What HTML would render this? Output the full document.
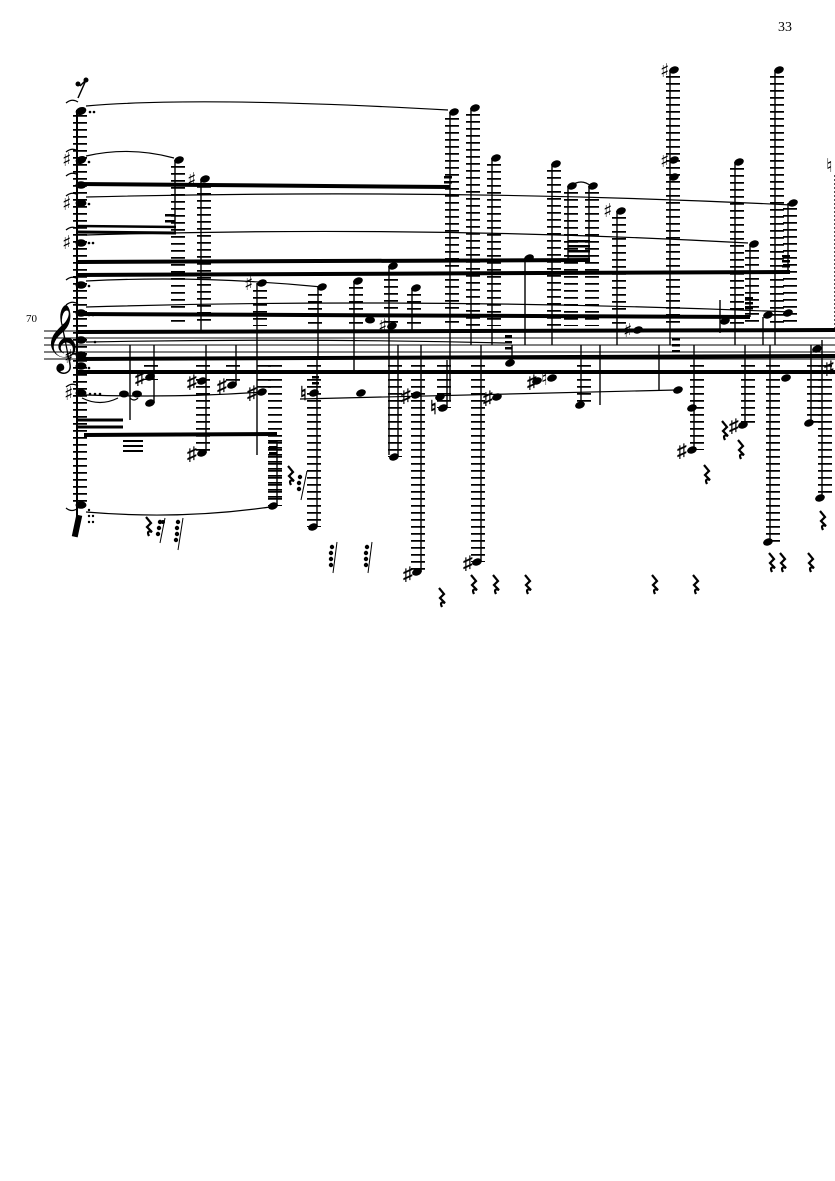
<!DOCTYPE html>
<html><head><meta charset="utf-8"><style>
html,body{margin:0;padding:0;background:#fff}
svg{display:block}
.l{stroke:#000;stroke-width:14;stroke-dasharray:1.8 5.2;fill:none}
.s{stroke:#000;stroke-width:1.4;fill:none}
.b{stroke:#000;stroke-width:4;fill:none}
.t{stroke:#000;stroke-width:1.2;fill:none}
.st{stroke:#000;stroke-width:0.9}
text{font-family:"Liberation Serif",serif;fill:#000}
.a{font-family:"DejaVu Sans",sans-serif;font-size:19px;font-weight:bold}
</style></head><body>
<svg width="835" height="1181" viewBox="0 0 835 1181" xmlns="http://www.w3.org/2000/svg">
<defs><path id="r" d="M1 0 L6 6 L2 10 L7 15 Q1 13 4 19" stroke="#000" stroke-width="2.2" fill="none"/></defs>
<text x="778" y="31" font-size="14">33</text>
<text x="26" y="322" font-size="11">70</text>
<!-- staff -->
<g class="st">
<line x1="44" y1="331" x2="835" y2="331"/><line x1="44" y1="338" x2="835" y2="338"/><line x1="44" y1="345" x2="835" y2="345"/><line x1="44" y1="352" x2="835" y2="352"/><line x1="44" y1="359" x2="835" y2="359"/>
</g>
<text x="44" y="357" font-size="58" font-family="DejaVu Sans">𝄞</text>

<!-- left column -->
<line class="l" x1="80" y1="115" x2="80" y2="505"/>
<line x1="77" y1="110" x2="77" y2="530" stroke="#000" stroke-width="2"/>
<g fill="#000">
<ellipse cx="81" cy="111" rx="5.5" ry="3.8" transform="rotate(-20 81 111)"/>
<ellipse cx="81" cy="160" rx="5.5" ry="3.8" transform="rotate(-20 81 160)"/>
<ellipse cx="81" cy="185" rx="5.5" ry="3.8"/>
<ellipse cx="81" cy="203" rx="5.5" ry="3.8"/>
<ellipse cx="81" cy="243" rx="5.5" ry="3.8"/>
<ellipse cx="81" cy="285" rx="5.5" ry="3.8"/>
<ellipse cx="81" cy="313" rx="5.5" ry="3.8"/>
<ellipse cx="81" cy="340" rx="5.5" ry="3.8"/>
<ellipse cx="81" cy="355" rx="5.5" ry="3.8"/>
<ellipse cx="81" cy="366" rx="5.5" ry="3.8"/>
<ellipse cx="81" cy="393" rx="5.5" ry="3.8"/>
<ellipse cx="81" cy="505" rx="5.5" ry="3.8"/>
<circle cx="90" cy="112" r="1.3"/><circle cx="94" cy="112" r="1.3"/>
<circle cx="89" cy="162" r="1.3"/><circle cx="89" cy="204" r="1.3"/><circle cx="89" cy="243" r="1.3"/><circle cx="93" cy="243" r="1.3"/>
<circle cx="89" cy="286" r="1.3"/><circle cx="89" cy="315" r="1.3"/><circle cx="93" cy="315" r="1.3"/>
<circle cx="95" cy="342" r="1.3"/><circle cx="89" cy="368" r="1.3"/>
<circle cx="90" cy="394" r="1.3"/><circle cx="95" cy="394" r="1.3"/><circle cx="100" cy="394" r="1.3"/>
<circle cx="89" cy="510" r="1.2"/><circle cx="89" cy="516" r="1.2"/><circle cx="89" cy="522" r="1.2"/><circle cx="93" cy="516" r="1.2"/><circle cx="93" cy="522" r="1.2"/>
<rect x="74" y="515" width="6" height="22" transform="rotate(12 77 526)"/>
<ellipse cx="124" cy="394" rx="5" ry="3.5"/><ellipse cx="137" cy="394" rx="5" ry="3.5"/>
<circle cx="78" cy="84" r="2.5"/><circle cx="86" cy="80" r="2.5"/>
</g>
<path d="M80 86 L86 80 L78 98" stroke="#000" stroke-width="1.5" fill="none"/>
<text class="a" x="62" y="166">♯</text><text class="a" x="62" y="210">♯</text><text class="a" x="62" y="249">♯</text>
<text class="a" x="64" y="363">♯</text><text class="a" x="64" y="400">♯</text>
<!-- ties left -->
<g class="t">
<path d="M66 103 Q72 98 78 102"/><path d="M66 152 Q72 147 78 151"/><path d="M66 176 Q72 171 78 175"/><path d="M66 196 Q72 191 78 195"/><path d="M66 230 Q72 225 78 229"/><path d="M66 280 Q72 275 78 279"/><path d="M66 305 Q72 300 78 304"/><path d="M66 387 Q72 382 78 386"/><path d="M66 508 Q72 513 78 508"/>
<path d="M82 398 Q100 407 118 398"/><path d="M130 398 Q134 402 138 398"/>
</g>

<!-- slurs -->
<g class="t">
<path d="M86 106 Q200 96 448 110"/>
<path d="M86 156 Q130 146 174 158"/>
<path d="M86 197 Q450 188 792 205"/>
<path d="M86 235 Q420 225 748 243"/>
<path d="M86 281 Q200 275 322 287"/>
<path d="M86 307 Q420 297 790 312"/>
<path d="M86 342 Q300 338 505 343"/>
<path d="M86 395 Q180 398 262 392"/>
<path d="M300 399 Q500 395 676 390"/>
<path d="M86 512 Q180 520 270 507"/>
<path d="M571 186 Q581 178 591 186"/>
</g>

<!-- beams -->
<g class="b">
<line x1="77" y1="184" x2="450" y2="187"/>
<line x1="77" y1="226" x2="176" y2="227" stroke-width="2.5"/>
<line x1="77" y1="232" x2="176" y2="233" stroke-width="3"/>
<line x1="77" y1="262" x2="590" y2="260"/>
<line x1="77" y1="275" x2="790" y2="272"/>
<line x1="77" y1="314" x2="750" y2="317"/>
<line x1="77" y1="332" x2="835" y2="330"/>
<line x1="77" y1="359" x2="835" y2="356"/>
<line x1="77" y1="372" x2="835" y2="372"/>
<line x1="77" y1="420" x2="123" y2="420" stroke-width="3"/>
<line x1="77" y1="427" x2="123" y2="427" stroke-width="3"/>
<line x1="84" y1="435" x2="277" y2="434"/>
</g>

<!-- upper notes -->
<g>
<line class="l" x1="178" y1="166" x2="178" y2="326"/><line class="s" x1="175" y1="160" x2="175" y2="232"/>
<line class="l" x1="204" y1="186" x2="204" y2="326"/><line class="s" x1="201" y1="180" x2="201" y2="330"/>
<line class="l" x1="260" y1="290" x2="260" y2="326"/><line class="l" x1="275" y1="440" x2="275" y2="500"/><line class="s" x1="257" y1="283" x2="257" y2="455"/>
<line class="l" x1="315" y1="294" x2="315" y2="326"/><line class="s" x1="318" y1="288" x2="318" y2="360"/>
<line class="l" x1="356" y1="287" x2="356" y2="326"/><line class="s" x1="354" y1="281" x2="354" y2="370"/>
<line class="l" x1="391" y1="272" x2="391" y2="326"/><line class="s" x1="389" y1="266" x2="389" y2="455"/>
<line class="l" x1="414" y1="294" x2="414" y2="326"/><line class="s" x1="412" y1="288" x2="412" y2="330"/>
<line class="l" x1="452" y1="118" x2="452" y2="326"/><line class="s" x1="450" y1="112" x2="450" y2="400"/>
<line class="l" x1="473" y1="114" x2="473" y2="326"/><line class="s" x1="471" y1="108" x2="471" y2="345"/>
<line class="l" x1="494" y1="164" x2="494" y2="326"/><line class="s" x1="492" y1="158" x2="492" y2="345"/>
<line class="s" x1="525" y1="258" x2="525" y2="345"/>
<line class="l" x1="554" y1="170" x2="554" y2="326"/><line class="s" x1="552" y1="164" x2="552" y2="345"/>
<line class="l" x1="571" y1="192" x2="571" y2="326"/><line class="s" x1="568" y1="186" x2="568" y2="260"/>
<line class="l" x1="592" y1="192" x2="592" y2="326"/><line class="s" x1="589" y1="186" x2="589" y2="260"/>
<line class="l" x1="619" y1="217" x2="619" y2="326"/><line class="s" x1="617" y1="211" x2="617" y2="345"/>
<line class="l" x1="673" y1="76" x2="673" y2="326"/><line class="s" x1="670" y1="70" x2="670" y2="345"/>
<line class="l" x1="737" y1="168" x2="737" y2="326"/><line class="s" x1="735" y1="162" x2="735" y2="345"/>
<line class="l" x1="752" y1="250" x2="752" y2="326"/><line class="s" x1="750" y1="244" x2="750" y2="317"/>
<line class="l" x1="777" y1="76" x2="777" y2="326"/><line class="s" x1="775" y1="70" x2="775" y2="345"/>
<line class="l" x1="790" y1="208" x2="790" y2="326"/><line class="s" x1="788" y1="203" x2="788" y2="272"/>
<line class="s" x1="720" y1="333" x2="720" y2="300"/>
<line class="s" x1="763" y1="317" x2="763" y2="345"/>
<line class="s" x1="835" y1="175" x2="835" y2="330" stroke-dasharray="2 2"/>
</g>
<g fill="#000">
<ellipse cx="179" cy="160" rx="5" ry="3.5" transform="rotate(-20 179 160)"/>
<ellipse cx="205" cy="179" rx="5" ry="3.5" transform="rotate(-20 205 179)"/>
<ellipse cx="262" cy="283" rx="5" ry="3.5" transform="rotate(-20 262 283)"/>
<ellipse cx="322" cy="287" rx="5" ry="3.5" transform="rotate(-20 322 287)"/>
<ellipse cx="358" cy="281" rx="5" ry="3.5" transform="rotate(-20 358 281)"/>
<ellipse cx="393" cy="266" rx="5" ry="3.5" transform="rotate(-20 393 266)"/>
<ellipse cx="416" cy="288" rx="5" ry="3.5" transform="rotate(-20 416 288)"/>
<ellipse cx="454" cy="112" rx="5" ry="3.5" transform="rotate(-20 454 112)"/>
<ellipse cx="475" cy="108" rx="5" ry="3.5" transform="rotate(-20 475 108)"/>
<ellipse cx="496" cy="158" rx="5" ry="3.5" transform="rotate(-20 496 158)"/>
<ellipse cx="529" cy="258" rx="5" ry="3.5" transform="rotate(-20 529 258)"/>
<ellipse cx="556" cy="164" rx="5" ry="3.5" transform="rotate(-20 556 164)"/>
<ellipse cx="572" cy="186" rx="5" ry="3.5" transform="rotate(-20 572 186)"/>
<ellipse cx="593" cy="186" rx="5" ry="3.5" transform="rotate(-20 593 186)"/>
<ellipse cx="621" cy="211" rx="5" ry="3.5" transform="rotate(-20 621 211)"/>
<ellipse cx="674" cy="70" rx="5" ry="3.5" transform="rotate(-20 674 70)"/>
<ellipse cx="674" cy="160" rx="5" ry="3.5" transform="rotate(-20 674 160)"/>
<ellipse cx="674" cy="177" rx="5" ry="3.5" transform="rotate(-20 674 177)"/>
<ellipse cx="739" cy="162" rx="5" ry="3.5" transform="rotate(-20 739 162)"/>
<ellipse cx="754" cy="244" rx="5" ry="3.5" transform="rotate(-20 754 244)"/>
<ellipse cx="779" cy="70" rx="5" ry="3.5" transform="rotate(-20 779 70)"/>
<ellipse cx="793" cy="203" rx="5" ry="3.5" transform="rotate(-20 793 203)"/>
<ellipse cx="725" cy="321" rx="5" ry="3.5" transform="rotate(-20 725 321)"/>
<ellipse cx="638" cy="330" rx="5" ry="3.5" transform="rotate(-20 638 330)"/>
<ellipse cx="392" cy="326" rx="5" ry="3.5" transform="rotate(-20 392 326)"/>
<ellipse cx="370" cy="320" rx="5" ry="3.5"/>
<ellipse cx="768" cy="315" rx="5" ry="3.5" transform="rotate(-20 768 315)"/>
<ellipse cx="788" cy="313" rx="5" ry="3.5" transform="rotate(-20 788 313)"/>
<rect x="165" y="214" width="10" height="2.5"/><rect x="165" y="220" width="10" height="2.5"/>
<rect x="444" y="176" width="8" height="2.5"/><rect x="444" y="181" width="8" height="2.5"/>
<rect x="568" y="240" width="22" height="2.5"/><rect x="568" y="245" width="22" height="2.5"/><rect x="568" y="250" width="22" height="2.5"/><rect x="568" y="255" width="22" height="2.5"/>
<rect x="782" y="255" width="8" height="2.5"/><rect x="782" y="260" width="8" height="2.5"/><rect x="782" y="265" width="8" height="2.5"/>
<rect x="745" y="297" width="8" height="2.5"/><rect x="745" y="302" width="8" height="2.5"/><rect x="745" y="307" width="8" height="2.5"/>
<rect x="672" y="338" width="8" height="2.5"/><rect x="672" y="344" width="8" height="2.5"/><rect x="672" y="350" width="8" height="2.5"/>
</g>
<text class="a" x="244" y="290">♯</text><text class="a" x="187" y="186">♯</text><text class="a" x="603" y="217">♯</text>
<text class="a" x="660" y="77">♯</text><text class="a" x="660" y="167">♯</text><text class="a" x="378" y="332">♯</text>
<text class="a" x="623" y="337">♯</text><text class="a" x="826" y="172">♮</text>

<!-- lower notes -->
<g>
<line class="s" x1="130" y1="345" x2="130" y2="420"/>
<line class="l" x1="151" y1="365" x2="151" y2="380"/><line class="s" x1="154" y1="345" x2="154" y2="403"/>
<line class="l" x1="203" y1="365" x2="203" y2="453"/><line class="s" x1="206" y1="345" x2="206" y2="453"/>
<line class="l" x1="233" y1="365" x2="233" y2="385"/><line class="s" x1="236" y1="345" x2="236" y2="385"/>
<line class="l" x1="264" y1="365" x2="264" y2="392"/>
<line class="l" x1="275" y1="365" x2="275" y2="506"/><line class="s" x1="277" y1="440" x2="277" y2="506"/>
<line class="l" x1="314" y1="365" x2="314" y2="527"/><line class="s" x1="317" y1="360" x2="317" y2="527"/>
<line class="l" x1="395" y1="365" x2="395" y2="457"/><line class="s" x1="398" y1="345" x2="398" y2="457"/>
<line class="l" x1="418" y1="365" x2="418" y2="572"/><line class="s" x1="421" y1="345" x2="421" y2="572"/>
<line class="l" x1="444" y1="365" x2="444" y2="408"/><line class="s" x1="447" y1="360" x2="447" y2="408"/>
<line class="l" x1="478" y1="365" x2="478" y2="562"/><line class="s" x1="481" y1="345" x2="481" y2="562"/>
<line class="s" x1="512" y1="345" x2="512" y2="363"/>
<line class="l" x1="584" y1="365" x2="584" y2="405"/><line class="s" x1="581" y1="345" x2="581" y2="405"/>
<line class="l" x1="697" y1="365" x2="697" y2="450"/><line class="s" x1="694" y1="345" x2="694" y2="450"/>
<line class="l" x1="748" y1="365" x2="748" y2="425"/><line class="s" x1="745" y1="345" x2="745" y2="425"/>
<line class="l" x1="773" y1="365" x2="773" y2="542"/><line class="s" x1="770" y1="345" x2="770" y2="542"/>
<line class="l" x1="814" y1="365" x2="814" y2="423"/><line class="s" x1="811" y1="345" x2="811" y2="423"/>
<line class="l" x1="825" y1="365" x2="825" y2="498"/><line class="s" x1="822" y1="340" x2="822" y2="498"/>
<line class="s" x1="600" y1="345" x2="600" y2="405"/>
<line class="s" x1="659" y1="345" x2="659" y2="390"/>
</g>
<g fill="#000">
<ellipse cx="150" cy="377" rx="5" ry="3.5" transform="rotate(-20 150 377)"/>
<ellipse cx="150" cy="403" rx="5" ry="3.5" transform="rotate(-20 150 403)"/>
<ellipse cx="202" cy="453" rx="5" ry="3.5" transform="rotate(-20 202 453)"/>
<ellipse cx="202" cy="381" rx="5" ry="3.5" transform="rotate(-20 202 381)"/>
<ellipse cx="232" cy="385" rx="5" ry="3.5" transform="rotate(-20 232 385)"/>
<ellipse cx="262" cy="392" rx="5" ry="3.5" transform="rotate(-20 262 392)"/>
<ellipse cx="273" cy="506" rx="5" ry="3.5" transform="rotate(-20 273 506)"/>
<ellipse cx="313" cy="527" rx="5" ry="3.5" transform="rotate(-20 313 527)"/>
<ellipse cx="314" cy="393" rx="5" ry="3.5" transform="rotate(-20 314 393)"/>
<ellipse cx="361" cy="393" rx="5" ry="3.5" transform="rotate(-20 361 393)"/>
<ellipse cx="394" cy="457" rx="5" ry="3.5" transform="rotate(-20 394 457)"/>
<ellipse cx="416" cy="395" rx="5" ry="3.5" transform="rotate(-20 416 395)"/>
<ellipse cx="417" cy="572" rx="5" ry="3.5" transform="rotate(-20 417 572)"/>
<ellipse cx="443" cy="408" rx="5" ry="3.5" transform="rotate(-20 443 408)"/>
<ellipse cx="440" cy="397" rx="5" ry="3.5" transform="rotate(-20 440 397)"/>
<ellipse cx="477" cy="562" rx="5" ry="3.5" transform="rotate(-20 477 562)"/>
<ellipse cx="497" cy="397" rx="5" ry="3.5" transform="rotate(-20 497 397)"/>
<ellipse cx="510" cy="363" rx="5" ry="3.5" transform="rotate(-20 510 363)"/>
<ellipse cx="580" cy="405" rx="5" ry="3.5" transform="rotate(-20 580 405)"/>
<ellipse cx="678" cy="390" rx="5" ry="3.5" transform="rotate(-20 678 390)"/>
<ellipse cx="692" cy="408" rx="5" ry="3.5" transform="rotate(-20 692 408)"/>
<ellipse cx="692" cy="450" rx="5" ry="3.5" transform="rotate(-20 692 450)"/>
<ellipse cx="743" cy="425" rx="5" ry="3.5" transform="rotate(-20 743 425)"/>
<ellipse cx="768" cy="542" rx="5" ry="3.5" transform="rotate(-20 768 542)"/>
<ellipse cx="809" cy="423" rx="5" ry="3.5" transform="rotate(-20 809 423)"/>
<ellipse cx="820" cy="498" rx="5" ry="3.5" transform="rotate(-20 820 498)"/>
<ellipse cx="817" cy="349" rx="5" ry="3.5" transform="rotate(-20 817 349)"/>
<ellipse cx="786" cy="378" rx="5" ry="3.5" transform="rotate(-20 786 378)"/>
<rect x="123" y="440" width="20" height="2"/><rect x="123" y="445" width="20" height="2"/><rect x="123" y="450" width="20" height="2"/>
<rect x="269" y="440" width="8" height="3"/><rect x="269" y="446" width="8" height="3"/><rect x="269" y="452" width="8" height="3"/>
<rect x="312" y="370" width="7" height="2.5"/><rect x="312" y="376" width="7" height="2.5"/><rect x="312" y="382" width="7" height="2.5"/>
<rect x="505" y="335" width="7" height="2.5"/><rect x="505" y="341" width="7" height="2.5"/><rect x="505" y="347" width="7" height="2.5"/>
</g>
<g class="a">
<text x="135" y="384">♯</text><text x="187" y="388">♯</text><text x="187" y="460">♯</text><text x="217" y="392">♯</text><text x="247" y="399">♯</text>
<text x="300" y="400">♮</text><text x="401" y="402">♯</text><text x="403" y="580">♯</text><text x="430" y="414">♮</text>
<text x="463" y="569">♯</text><text x="483" y="404">♯</text><text x="527" y="388">♯</text><text x="677" y="457">♯</text><text x="729" y="432">♯</text><text x="824" y="374">♯</text>
</g>
<g fill="#000">
<ellipse cx="537" cy="381" rx="5" ry="3.5" transform="rotate(-20 537 381)"/>
<ellipse cx="552" cy="378" rx="5" ry="3.5" transform="rotate(-20 552 378)"/>
<text class="a" x="541" y="385">♮</text>
</g>

<!-- rests -->
<g>
<use href="#r" x="438" y="588"/><use href="#r" x="470" y="575"/><use href="#r" x="492" y="575"/><use href="#r" x="524" y="575"/>
<use href="#r" x="651" y="575"/><use href="#r" x="692" y="575"/><use href="#r" x="703" y="465"/><use href="#r" x="721" y="421"/><use href="#r" x="737" y="440"/>
<use href="#r" x="768" y="553"/><use href="#r" x="779" y="553"/><use href="#r" x="807" y="553"/><use href="#r" x="819" y="511"/>
<use href="#r" x="287" y="466"/><use href="#r" x="145" y="517"/>
</g>
<!-- grace clusters -->
<g fill="#000" stroke="#000">
<line x1="160" y1="543" x2="165" y2="518" stroke-width="1"/><circle cx="160" cy="522" r="1.7"/><circle cx="159" cy="528" r="1.7"/><circle cx="158" cy="534" r="1.7"/><circle cx="163" cy="522" r="1.5"/>
<line x1="178" y1="550" x2="183" y2="518" stroke-width="1"/><circle cx="178" cy="522" r="1.7"/><circle cx="177" cy="528" r="1.7"/><circle cx="177" cy="534" r="1.7"/><circle cx="176" cy="540" r="1.7"/>
<line x1="301" y1="500" x2="307" y2="471" stroke-width="1"/><circle cx="300" cy="477" r="1.7"/><circle cx="299" cy="483" r="1.7"/><circle cx="299" cy="489" r="1.7"/>
<line x1="333" y1="573" x2="337" y2="542" stroke-width="1"/><circle cx="332" cy="547" r="1.7"/><circle cx="331" cy="553" r="1.7"/><circle cx="331" cy="559" r="1.7"/><circle cx="331" cy="565" r="1.7"/>
<line x1="368" y1="573" x2="372" y2="542" stroke-width="1"/><circle cx="367" cy="547" r="1.7"/><circle cx="366" cy="553" r="1.7"/><circle cx="366" cy="559" r="1.7"/><circle cx="366" cy="565" r="1.7"/>
</g>
</svg>
</body></html>
